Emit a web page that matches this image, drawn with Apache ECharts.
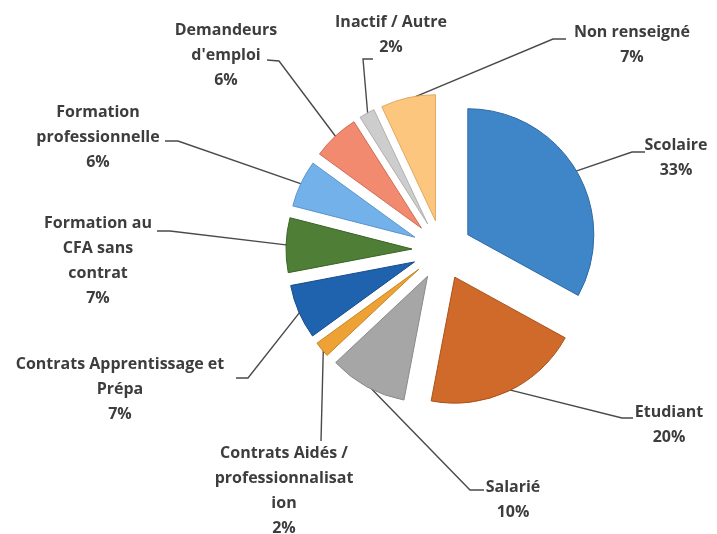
<!DOCTYPE html>
<html>
<head>
<meta charset="utf-8">
<script src="https://cdn.jsdelivr.net/npm/echarts@6/dist/echarts.min.js"></script>
<style>
html,body{margin:0;padding:0;background:#fff;}
#chart{width:717px;height:534px;}
</style>
</head>
<body>
<div id="chart"></div>
<script>
// Categories (clockwise from 12 o'clock) and their shares (%)
const categories = [
  "Scolaire",
  "Etudiant",
  "Salarié",
  "Contrats Aidés / professionnalisation",
  "Contrats Apprentissage et Prépa",
  "Formation au CFA sans contrat",
  "Formation professionnelle",
  "Demandeurs d'emploi",
  "Inactif / Autre",
  "Non renseigné"
];
const values = [33, 20, 10, 2, 7, 7, 6, 6, 2, 7];
// Label text as wrapped in the original
const labelTexts = [
  "Scolaire",
  "Etudiant",
  "Salarié",
  "Contrats Aidés /\nprofessionnalisat\nion",
  "Contrats Apprentissage et\nPrépa",
  "Formation au\nCFA sans\ncontrat",
  "Formation\nprofessionnelle",
  "Demandeurs\nd'emploi",
  "Inactif / Autre",
  "Non renseigné"
];
const colors = ["#3f86c8","#cf6a2a","#a6a6a6","#eea236","#1f63ae","#4f7f36","#73b1ea","#f28a70","#cdcdcd","#fcc67e"];
const borders = ["#2e6aa3","#a9521c","#8a8a8a","#c8851e","#154c8a","#3a6226","#5a95cc","#d06d55","#b0b0b0","#e0aa60"];
// label block centres (layout of the labels)
const labelPos = [
  [676,158],[669,425],[513,500],[284,491],[120,389],
  [98,261],[98,137],[226,55],[391,35],[632,45]
];
// leader line knee and end points (label layout)
const leaderKnee = [
  [632,152],[622,418],[470,490],[321,441],[248,378],
  [170,231],[178,141],[279,61],[363,59],[553,39]
];
const leaderEnd = [
  [645,152],[633,418],[484,490],[321,441],[236,378],
  [157,231],[165,141],[267,60],[373,59],[566,39]
];

const CX = 442, CY = 250, R = 126, EXPLODE = 30;
const total = values.reduce((a, b) => a + b, 0);
const mids = [];
let acc = 0;
values.forEach(v => { mids.push((acc + v / 2) / total * 2 * Math.PI); acc += v; });

const series = values.map((v, i) => {
  const a = mids[i];
  const cx = CX + EXPLODE * Math.sin(a);
  const cy = CY - EXPLODE * Math.cos(a);
  const arcPt = [cx + (R - 2) * Math.sin(a), cy - (R - 2) * Math.cos(a)];
  return {
    type: 'pie',
    center: [cx, cy],
    radius: [0, R],
    startAngle: 90,
    clockwise: true,
    avoidLabelOverlap: false,
    silent: true,
    emphasis: { disabled: true },
    z: 2,
    data: categories.map((c, j) => j === i ? {
      name: c, value: values[j],
      itemStyle: { color: colors[j], borderColor: borders[j], borderWidth: 1 },
      label: { show: true },
      labelLine: { show: true }
    } : {
      name: c, value: values[j],
      itemStyle: { color: 'rgba(0,0,0,0)', borderWidth: 0 },
      label: { show: false },
      labelLine: { show: false }
    }),
    label: {
      position: 'outside',
      formatter: p => labelTexts[p.dataIndex] + '\n' + p.value + '%',
      fontFamily: '"Open Sans", sans-serif',
      fontWeight: 'bold',
      fontSize: 16,
      lineHeight: 25,
      color: '#3d3d3d',
      align: 'center'
    },
    labelLine: {
      length: 20,
      length2: 10,
      lineStyle: { color: '#4a4a4a', width: 1.4 }
    },
    labelLayout: function (params) {
      const k = params.dataIndex;
      return {
        x: labelPos[k][0], y: labelPos[k][1],
        align: 'center', verticalAlign: 'middle',
        labelLinePoints: [arcPt, leaderKnee[k], leaderEnd[k]]
      };
    }
  };
});

const chart = echarts.init(document.getElementById('chart'), null, {renderer:'canvas'});
chart.setOption({
  backgroundColor: '#ffffff',
  animation: false,
  series: series
});
</script>
</body>
</html>
